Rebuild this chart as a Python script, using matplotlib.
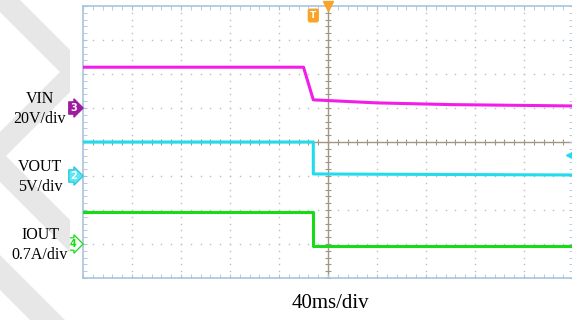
import numpy as np
import matplotlib.pyplot as plt
from matplotlib.patches import Polygon

# Zeitachse in ms (40 ms/div, 10 div), Spannungen in Divisions
t_vin = [-200, -20, -12, 40, 100, 200]
vin_div = [2.2, 2.2, 1.24, 1.15, 1.10, 1.06]

t_vout = [-200, -12, -12, 200]
vout_div = [0.0, 0.0, -0.94, -0.97]

t_iout = [-200, -12, -12, 200]
iout_div = [-2.06, -2.06, -3.06, -3.06]

# Kanalmarker (Offsets in div)
ch_names = ["3", "2", "4"]
ch_offsets = [1.0, -1.0, -3.0]
ch_labels = ["VIN\n20V/div", "VOUT\n5V/div", "IOUT\n0.7A/div"]
time_label = "40ms/div"

c_vin = "#f01ee8"
c_vout = "#22dcee"
c_iout = "#16dc16"
c_grid = "#bdbdbd"
c_cross = "#a39584"
c_frame = "#a9c3de"
c_trig = "#f7a428"

plt.rcParams["font.family"] = ["Liberation Serif", "DejaVu Serif"]

fig = plt.figure(figsize=(5.72, 3.2), dpi=100)

# Wasserzeichen links (helle graue Baender)
W, H = 572.0, 320.0
def px(pts):
    return [(x / W, 1 - y / H) for x, y in pts]

wm = [
    [(0, -20), (0, 12), (70, 82), (70, 50)],
    [(70, 62), (70, 92), (0, 162), (0, 132)],
    [(0, 150), (0, 182), (70, 252), (70, 220)],
    [(0, 255), (0, 290), (35, 325), (70, 325), (70, 325)],
]
for poly in wm:
    fig.patches.append(Polygon(px(poly), closed=True, transform=fig.transFigure,
                               fc="#e7e7e7", ec="none", zorder=0))

ax = fig.add_axes([83 / W, 42 / H, 490 / W, 272 / H])
ax.set_facecolor("white")
ax.set_xlim(-200, 200)
ax.set_ylim(-4, 4)

# Rahmen mit kleinen Teilstrichen
for s in ax.spines.values():
    s.set_color(c_frame)
    s.set_linewidth(1.2)
ax.set_xticks(np.arange(-200, 201, 40))
ax.set_xticks(np.arange(-200, 201, 8), minor=True)
ax.set_yticks(np.arange(-4, 5, 1))
ax.set_yticks(np.arange(-4, 4.01, 0.2), minor=True)
ax.tick_params(which="both", direction="in", length=3, color=c_frame,
               top=True, right=True, labelbottom=False, labelleft=False)

# Gitter als Punktreihen
xs_minor = np.arange(-200, 201, 8)
ys_minor = np.arange(-4, 4.01, 0.2)
for gx in np.arange(-160, 200, 40):
    if gx == 0:
        continue
    ax.plot(np.full_like(ys_minor, gx), ys_minor, ls="none", marker="s",
            ms=1.0, mew=0, color=c_grid, zorder=1)
for gy in np.arange(-3, 4, 1):
    if gy == 0:
        continue
    ax.plot(xs_minor, np.full_like(xs_minor, gy, dtype=float), ls="none",
            marker="s", ms=1.0, mew=0, color=c_grid, zorder=1)

# Mittelkreuz mit Teilstrichen
ax.axhline(0, color=c_cross, lw=1, zorder=1)
ax.axvline(0, color=c_cross, lw=1, zorder=1)
ax.plot(xs_minor, np.zeros_like(xs_minor), ls="none", marker="|", ms=4,
        mew=0.8, color=c_cross, zorder=1)
ax.plot(np.zeros_like(ys_minor), ys_minor, ls="none", marker="_", ms=4,
        mew=0.8, color=c_cross, zorder=1)

# Messkurven
ax.plot(t_vin, vin_div, color=c_vin, lw=2.2, zorder=3)
ax.plot(t_vout, vout_div, color=c_vout, lw=2.2, zorder=3)
ax.plot(t_iout, iout_div, color=c_iout, lw=2.2, zorder=3)

# Kanalmarker links
tag_style = [
    dict(fc="#9e1aa0", ec="#9e1aa0", tc="white"),
    dict(fc="#5fe6f2", ec="#22c8e0", tc="white"),
    dict(fc="white", ec=c_iout, tc=c_iout),
]
for name, off, st in zip(ch_names, ch_offsets, tag_style):
    ax.annotate(name, xy=(-200, off), xytext=(-7, 0), textcoords="offset points",
                ha="center", va="center", fontsize=7, fontweight="bold",
                color=st["tc"], family="DejaVu Sans", annotation_clip=False,
                bbox=dict(boxstyle="rarrow,pad=0.12", fc=st["fc"], ec=st["ec"], lw=0.9))

# Trigger-Marker
ax.plot([0], [4], marker="v", ms=7, color=c_trig, clip_on=False, zorder=5)
ax.annotate("T", xy=(-12, 3.72), ha="center", va="center", fontsize=6.5,
            fontweight="bold", color="white", family="DejaVu Sans",
            bbox=dict(boxstyle="round,pad=0.2", fc=c_trig, ec=c_trig))
ax.plot([197], [-0.38], marker="<", ms=5, color=c_vout, clip_on=False, zorder=5)

# Beschriftungen
for lbl, off in zip(ch_labels, ch_offsets):
    fig.text(40 / W, 1 - ((142 - off * 34) + 1) / H, lbl, ha="center",
             va="center", fontsize=11.5, linespacing=1.3)
fig.text(330 / W, 1 - 303 / H, time_label, ha="center", va="center", fontsize=15)

fig.savefig("out.png", dpi=100)
